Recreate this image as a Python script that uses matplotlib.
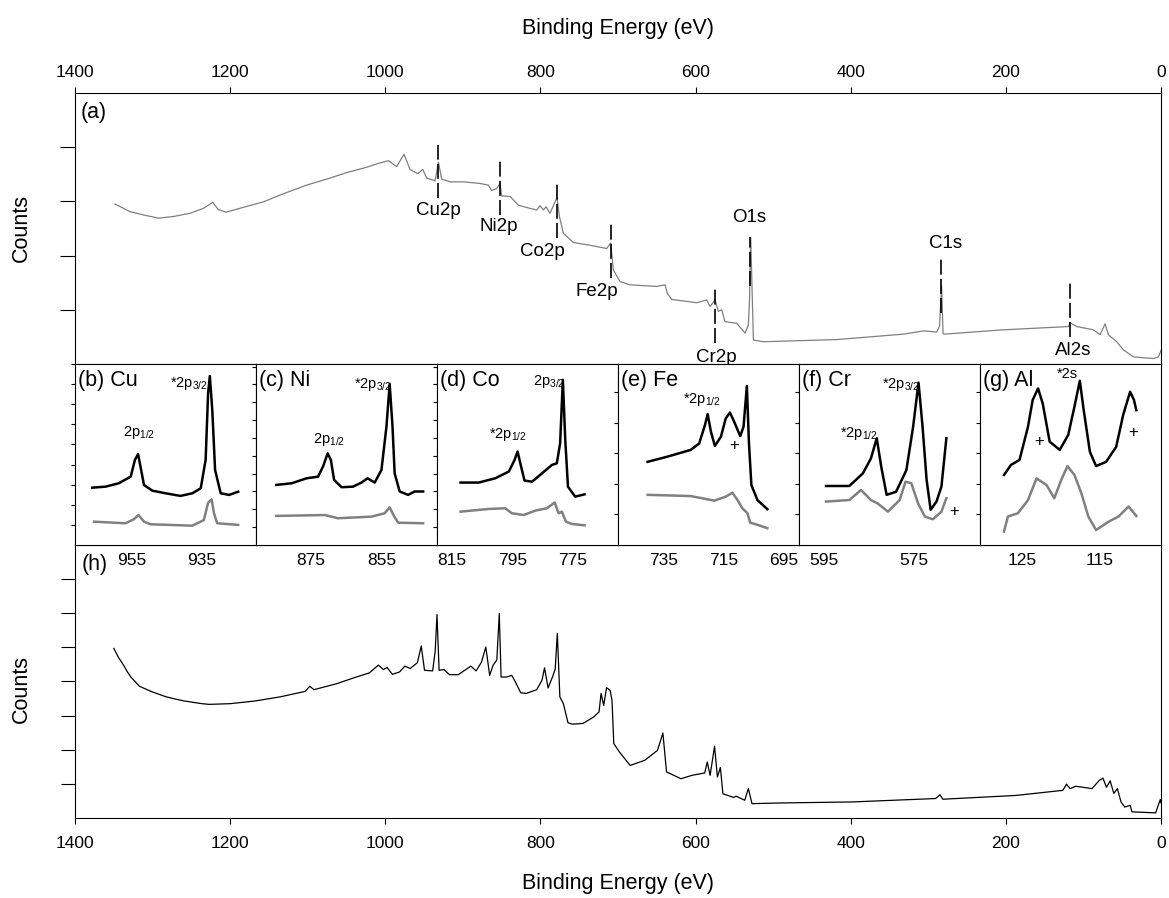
import matplotlib
matplotlib.use("Agg")
import matplotlib.pyplot as plt

plt.rcParams['font.family'] = ['Liberation Sans', 'DejaVu Sans']
plt.rcParams['mathtext.default'] = 'regular'

# ---- survey (a), grey trace: binding energy (eV), counts (arb.)
survey_a_e = [1348.5, 1329.1, 1311.9, 1292.6, 1273.3, 1251.8, 1234.6, 1222.6, 1215.3, 1205.4,
              1183, 1157.3, 1131.5, 1101.4, 1075.6, 1049.8, 1024, 1009, 996.1, 985.4,
              975.9, 968.2, 957.8, 951.8, 946.7, 935.9, 931.5, 927.4, 916.6, 899.4,
              877.9, 867.2, 862.9, 856.4, 852.1, 850, 839.2, 828.5, 813.4, 804.8,
              800.5, 796.2, 792.8, 787.7, 781.2, 778.6, 775.6, 770.5, 757.6, 736.1,
              714.6, 709.5, 706, 697.4, 684.5, 650.2, 639.4, 636.4, 630.8, 598.6,
              585.7, 581.4, 575, 570.7, 566.4, 562.1, 547.0, 536.3, 532, 530.5,
              529, 525.5, 512.6, 418.1, 332.1, 306.3, 289.1, 285.5, 283, 281,
              279.7, 203.2, 119.4, 117.3, 108.7, 87.2, 78.6, 72.1, 67.9, 57.1,
              48.5, 35.6, 9.8, 3.4, 0]
survey_a_c = [29.5, 28.1, 27.5, 26.9, 27.2, 27.8, 28.7, 29.8, 28.5, 28.0,
              28.9, 29.9, 31.4, 33.0, 34.1, 35.3, 36.3, 37.0, 37.5, 36.4,
              38.7, 35.9, 35.1, 35.9, 34.3, 33.8, 37.2, 34.1, 33.6, 33.6,
              33.3, 33.0, 32.0, 32.4, 33.3, 31.0, 30.9, 29.3, 28.7, 28.4,
              29.2, 28.4, 29.0, 27.8, 29.9, 30.6, 27.2, 24.1, 22.4, 21.9,
              21.3, 22.3, 17.3, 15.2, 14.6, 14.3, 14.6, 13.0, 11.9, 11.3,
              11.8, 10.6, 11.8, 9.7, 10.0, 7.8, 7.5, 5.7, 7.2, 12.0,
              23.4, 4.4, 4.1, 4.5, 5.5, 6.1, 5.9, 7.0, 14.5, 5.6,
              5.5, 6.3, 6.9, 7.6, 6.9, 6.3, 5.4, 7.4, 5.4, 4.1,
              2.6, 1.3, 1.0, 1.3, 2.5]

# ---- survey (h), black trace
survey_h_e = [1350, 1344.4, 1337.5, 1333, 1328, 1317, 1310, 1301, 1282.5, 1273.3,
              1259.5, 1236.5, 1227.3, 1200, 1167.6,
              1135.5, 1103.4, 1097.4, 1092, 1062, 1039, 1020.7, 1009, 1002.3, 997.7,
              990.9, 981.7, 974.8, 968, 958.7, 953.7, 949.5, 939, 935.7, 933.4,
              930.7, 924.3, 917.4, 905.9, 889.8, 883, 876, 870.5, 865.5, 861,
              856.3, 853.1, 850.8, 843.9, 837, 832.4, 825.5, 818.6, 804.8, 798,
              794.8, 790.2, 784.2, 781, 778.3, 775, 770.5, 764.5, 759, 745.2,
              731.4, 724.5, 721.9, 718.5, 714.8, 710.2, 707.8, 705.5, 698.4, 684.4,
              665.6, 649.2, 642.2, 637.5, 618.8, 604.7, 588.3, 585, 581.3, 575.6,
              571.9, 568.1, 564.8, 550.8, 548, 536.7, 532, 527.3, 492.2, 398.4,
              290.6, 285, 281.3, 187.5, 126.6, 121.9, 117.2, 110, 100.8, 89.1,
              79.7, 75, 70.3, 65.6, 60.9, 56.3, 51.6, 46.9, 39.8, 37.5,
              7, 1, 0]
survey_h_c = [49.7, 47.2, 44.8, 43.0, 41.3, 38.6, 37.9, 37.0, 35.5, 35.0,
              34.3, 33.5, 33.3, 33.5, 34.3,
              35.5, 37.1, 38.6, 37.6, 39.4, 41.2, 42.5, 44.8, 43.5, 44.1,
              42.1, 42.8, 44.5, 43.8, 45.5, 50.4, 43.3, 43.1, 49.0, 59.6,
              43.3, 43.5, 42.0, 42.0, 44.5, 43.1, 45.7, 50.1, 41.8, 44.8,
              46.3, 59.9, 41.3, 41.3, 41.8, 39.9, 36.7, 36.5, 37.6, 40.4,
              44.0, 38.1, 41.5, 43.7, 54.1, 35.5, 33.5, 27.9, 27.5, 27.7,
              29.6, 31.1, 36.5, 33.0, 38.2, 37.4, 34.5, 21.8, 19.4, 15.4,
              16.9, 19.8, 24.9, 13.5, 11.5, 12.5, 13.2, 16.4, 12.5, 21.0,
              12.0, 14.8, 7.1, 6.0, 6.4, 5.2, 8.6, 4.2, 4.4, 4.7,
              5.7, 6.8, 5.5, 6.6, 8.1, 9.9, 8.6, 9.3, 9.0, 8.6,
              11.0, 11.7, 9.0, 10.9, 7.2, 8.6, 4.7, 3.2, 3.7, 1.8,
              1.5, 5.4, 4.4]

# ---- peak markers in (a)
mark_names = ['Cu2p', 'Ni2p', 'Co2p', 'Fe2p', 'Cr2p', 'O1s', 'C1s', 'Al2s']
mark_e = [931.5, 852.3, 778.6, 709.0, 574.5, 529.5, 283.5, 117.5]
mark_hi = [40.4, 37.8, 33.4, 25.8, 14.3, 23.5, 19.6, 15.0]
mark_lo = [30.6, 27.5, 23.2, 15.9, 3.8, 14.3, 9.4, 5.0]
label_e = [932, 853.4, 797.6, 727.5, 573.7, 530.7, 277.5, 113.4]
label_c = [28.4, 25.3, 20.7, 13.3, 1.2, 27.1, 22.3, 2.4]

# ---- high-resolution insets (b)-(g)
cu_e = [966.3, 962.5, 958.7, 955.3, 954.1, 953.2, 952.5, 951.5, 949.1, 945.3, 941.1, 937.7,
        935.3, 933.9, 933.2, 932.7, 932.0, 931.2, 929.6, 927.2, 924.6]
cu_c = [2.85, 2.90, 3.07, 3.40, 4.23, 4.52, 3.89, 2.98, 2.70, 2.57, 2.44, 2.57,
        2.82, 4.23, 7.54, 8.40, 6.71, 3.73, 2.57, 2.49, 2.65]
cu_ref_e = [965.8, 956.8, 954.4, 953.1, 951.5, 949.6, 937.7, 934.4, 933.2, 932.2, 931.5, 930.6, 924.6]
cu_ref_c = [1.16, 1.08, 1.28, 1.49, 1.16, 1.03, 0.96, 1.24, 2.10, 2.27, 1.57, 1.08, 1.0]

ni_e = [884.7, 880.4, 876.2, 873.0, 871.6, 870.3, 869.4, 868.5, 866.4, 863.2, 860.8, 859.1,
        857.1, 855.2, 853.8, 852.9, 852.1, 851.5, 850.1, 847.7, 845.9, 843.5]
ni_c = [3.37, 3.46, 3.74, 3.83, 4.40, 5.14, 4.77, 3.65, 3.24, 3.27, 3.50, 3.74,
        3.50, 4.21, 6.64, 9.03, 6.64, 4.02, 3.0, 2.81, 3.0, 3.0]
ni_ref_e = [884.7, 871.1, 867.4, 858.0, 854.3, 852.9, 851.6, 850.5, 843.5]
ni_ref_c = [1.63, 1.68, 1.50, 1.59, 1.78, 2.11, 1.59, 1.25, 1.22]

co_e = [812.2, 806.2, 800.7, 796.2, 794.3, 793.3, 792.4, 791.0, 788.5, 785.2, 781.9, 780.3,
        779.2, 778.3, 777.5, 776.6, 774.2, 771.1]
co_c = [3.50, 3.50, 3.74, 4.12, 4.77, 5.24, 4.58, 3.61, 3.55, 4.02, 4.49, 4.58,
        5.70, 9.26, 5.89, 3.27, 2.71, 2.84]
co_ref_e = [812.2, 802.9, 797.4, 795.2, 791.3, 787.4, 783.6, 781.0, 779.7, 778.6, 777.3, 775.3, 771.1]
co_ref_c = [1.87, 2.02, 2.06, 1.78, 1.68, 1.93, 2.06, 2.38, 1.78, 1.87, 1.31, 1.18, 1.10]

fe_e = [740.2, 733.6, 725.9, 723.1, 721.2, 720.3, 719.2, 717.9, 715.9, 714.3, 712.9, 711.5,
        709.5, 708.4, 707.3, 706.6, 705.8, 703.8, 700.5]
fe_c = [2.72, 2.89, 3.11, 3.32, 3.92, 4.28, 3.70, 3.24, 3.54, 4.14, 4.33, 4.03,
        3.56, 3.87, 5.20, 3.32, 1.96, 1.47, 1.17]
fe_ref_e = [740.2, 725.9, 718.1, 714.3, 712.1, 710.4, 708.8, 707.1, 706.2, 703.8, 700.5]
fe_ref_c = [1.64, 1.60, 1.45, 1.58, 1.71, 1.47, 1.20, 1.04, 0.73, 0.66, 0.55]

cr_e = [594.6, 589.4, 586.4, 584.6, 583.3, 582.3, 581.1, 579.0, 576.7, 575.2, 574.0, 573.1,
        572.2, 571.3, 570.0, 568.9, 567.8]
cr_c = [1.93, 1.93, 2.34, 2.83, 3.49, 2.56, 1.64, 1.74, 2.45, 3.87, 5.31, 3.87,
        2.13, 1.15, 1.42, 1.91, 3.49]
cr_ref_e = [594.6, 589.4, 586.8, 584.6, 583.1, 580.8, 578.2, 576.9, 575.6, 574.1, 572.6, 570.8,
            568.9, 567.8]
cr_ref_c = [1.42, 1.47, 1.80, 1.47, 1.36, 1.09, 1.47, 2.07, 2.02, 1.36, 0.93, 0.84,
            1.09, 1.53]

al_e = [127.3, 126.4, 125.3, 124.2, 123.6, 122.9, 122.3, 121.4, 120.1, 119.0, 118.2, 117.5,
        117.0, 116.2, 115.4, 114.1, 112.8, 111.9, 111.0, 110.5, 110.2]
al_c = [2.29, 2.62, 2.78, 3.87, 4.74, 5.12, 4.63, 3.38, 3.11, 3.60, 4.52, 5.37,
        4.41, 3.05, 2.58, 2.72, 3.21, 4.25, 5.01, 4.74, 4.41]
al_ref_e = [127.3, 126.8, 125.5, 124.2, 123.1, 121.8, 120.8, 119.9, 119.1, 118.2, 117.3, 116.4,
            115.4, 113.8, 112.5, 111.2, 110.2]
al_ref_c = [0.44, 0.93, 1.04, 1.47, 2.18, 1.96, 1.53, 2.13, 2.58, 2.29, 1.69, 0.93,
            0.49, 0.76, 0.93, 1.26, 0.95]

inset_titles = ['(b) Cu', '(c) Ni', '(d) Co', '(e) Fe', '(f) Cr', '(g) Al']
inset_xlim = [(971.2, 919.5), (890.4, 839.6), (820.0, 760.0), (750.0, 690.0), (600.6, 560.3), (130.4, 107.0)]
inset_ytop = [9.0, 10.15, 10.15, 5.92, 5.92, 5.92]
inset_xticks = [[955, 935], [875, 855], [815, 795, 775], [735, 715, 695], [595, 575], [125, 115]]
inset_black = [(cu_e, cu_c), (ni_e, ni_c), (co_e, co_c), (fe_e, fe_c), (cr_e, cr_c), (al_e, al_c)]
inset_grey = [(cu_ref_e, cu_ref_c), (ni_ref_e, ni_ref_c), (co_ref_e, co_ref_c),
              (fe_ref_e, fe_ref_c), (cr_ref_e, cr_ref_c), (al_ref_e, al_ref_c)]

# peak notes inside each inset: (panel, text, x frac, y frac)
notes = [(0, '2p$_{1/2}$', 0.264, 0.602), (0, '*2p$_{3/2}$', 0.525, 0.875),
         (1, '2p$_{1/2}$', 0.313, 0.565), (1, '*2p$_{3/2}$', 0.541, 0.866),
         (2, '*2p$_{1/2}$', 0.289, 0.590), (2, '2p$_{3/2}$', 0.532, 0.884),
         (3, '*2p$_{1/2}$', 0.361, 0.783),
         (4, '*2p$_{1/2}$', 0.227, 0.598), (4, '*2p$_{3/2}$', 0.457, 0.866),
         (5, '*2s', 0.424, 0.921)]
plus_marks = [(3, 0.641, 0.547), (4, 0.856, 0.184), (5, 0.328, 0.571), (5, 0.847, 0.620)]

fig = plt.figure(figsize=(11.69, 8.98), dpi=100)

L, W = 0.0642, 0.929
tick_fs = 12.5

# (a)
ax_a = fig.add_axes([L, 0.5947, W, 0.3018])
ax_a.plot(survey_a_e, survey_a_c, color='#7f7f7f', lw=0.9)
for e, hi, lo in zip(mark_e, mark_hi, mark_lo):
    ax_a.plot([e, e], [lo, hi], color='k', lw=1.2, dashes=(9, 2.5))
for name, e, c in zip(mark_names, label_e, label_c):
    ax_a.text(e, c, name, ha='center', va='center', fontsize=13.5)
ax_a.set_xlim(1400, 0)
ax_a.set_ylim(0, 50)
ax_a.xaxis.tick_top()
ax_a.set_xticks(range(0, 1401, 200))
ax_a.set_yticks([10, 20, 30, 40])
ax_a.set_yticklabels([])
ax_a.tick_params(axis='x', direction='out', length=4.5, labelsize=tick_fs, pad=5)
ax_a.tick_params(axis='y', direction='out', length=11)
ax_a.text(0.005, 0.928, '(a)', transform=ax_a.transAxes, fontsize=15.5, va='center')

# (h)
ax_h = fig.add_axes([L, 0.0891, W, 0.304])
ax_h.plot(survey_h_e, survey_h_c, color='k', lw=0.9)
ax_h.set_xlim(1400, 0)
ax_h.set_ylim(0, 80)
ax_h.set_xticks(range(0, 1401, 200))
ax_h.set_yticks(range(10, 80, 10))
ax_h.set_yticklabels([])
ax_h.tick_params(axis='x', direction='out', length=4, labelsize=tick_fs, pad=9)
ax_h.tick_params(axis='y', direction='out', length=10)
ax_h.text(0.006, 0.930, '(h)', transform=ax_h.transAxes, fontsize=15.5, va='center')

# insets (b)-(g)
iw = W / 6
insets = []
for i in range(6):
    ax = fig.add_axes([L + i * iw, 0.3931, iw, 0.2016])
    ax.plot(*inset_grey[i], color='#808080', lw=1.8)
    ax.plot(*inset_black[i], color='k', lw=1.8)
    ax.set_xlim(*inset_xlim[i])
    ax.set_ylim(0, inset_ytop[i])
    ax.set_xticks(inset_xticks[i])
    ax.set_yticks(range(1, int(inset_ytop[i]) + 1))
    ax.set_yticklabels([])
    ax.tick_params(axis='x', length=0, labelsize=tick_fs, pad=6)
    ax.tick_params(axis='y', direction='out', length=3, width=0.8)
    ax.text(0.018, 0.906, inset_titles[i], transform=ax.transAxes, fontsize=15.5, va='center')
    insets.append(ax)

for i, txt, x, y in notes:
    insets[i].text(x, y, txt, transform=insets[i].transAxes, fontsize=10.5, va='baseline')
for i, x, y in plus_marks:
    insets[i].text(x, y, '+', transform=insets[i].transAxes, fontsize=12, ha='center', va='center')

fig.text(0.5287, 0.968, 'Binding Energy (eV)', ha='center', va='center', fontsize=15.5)
fig.text(0.5287, 0.0167, 'Binding Energy (eV)', ha='center', va='center', fontsize=15.5)
fig.text(0.018, 0.7456, 'Counts', rotation=90, ha='center', va='center', fontsize=15.5)
fig.text(0.018, 0.233, 'Counts', rotation=90, ha='center', va='center', fontsize=15.5)

fig.savefig('out.png', dpi=100)
